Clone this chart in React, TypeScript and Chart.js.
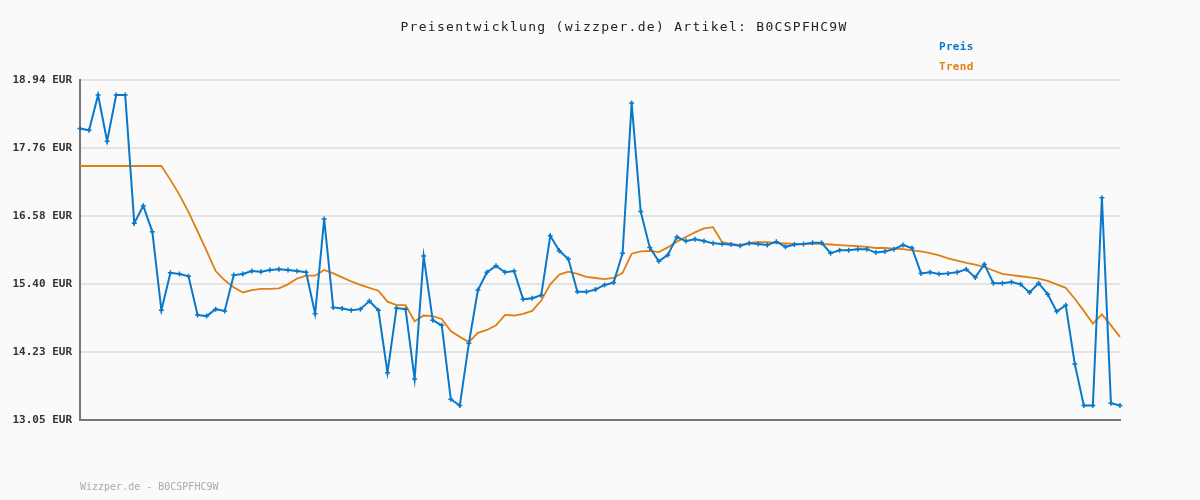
import React, { useEffect, useRef } from "react";
import { Chart, registerables } from "chart.js";

Chart.register(...registerables);

const titleText = "Preisentwicklung (wizzper.de) Artikel: B0CSPFHC9W";
const footerText = "Wizzper.de - B0CSPFHC9W";
const seriesNames = ["Preis", "Trend"];
const seriesColors = ["#0a78c8", "#e07f14"];

const yTickValues = [13.05, 14.228, 15.406, 16.584, 17.762, 18.94];
const yTickLabels = ["13.05 EUR", "14.23 EUR", "15.40 EUR", "16.58 EUR", "17.76 EUR", "18.94 EUR"];

const priceValues = [
  18.10, 18.07, 18.68, 17.88, 18.68, 18.68, 16.46, 16.76, 16.31, 14.95,
  15.60, 15.58, 15.54, 14.87, 14.85, 14.97, 14.94, 15.56, 15.58, 15.63,
  15.62, 15.65, 15.66, 15.65, 15.63, 15.61, 14.89, 16.53, 15.00, 14.98,
  14.95, 14.97, 15.11, 14.95, 13.87, 14.99, 14.97, 13.76, 15.89, 14.78,
  14.69, 13.41, 13.30, 14.38, 15.30, 15.61, 15.72, 15.61, 15.63, 15.14,
  15.16, 15.21, 16.24, 15.98, 15.84, 15.27, 15.27, 15.31, 15.39, 15.43,
  15.94, 18.54, 16.66, 16.04, 15.80, 15.91, 16.22, 16.15, 16.18, 16.15,
  16.11, 16.10, 16.09, 16.07, 16.11, 16.10, 16.08, 16.14, 16.05, 16.09,
  16.10, 16.12, 16.12, 15.94, 15.99, 15.99, 16.01, 16.01, 15.95, 15.97,
  16.01, 16.08, 16.03, 15.59, 15.61, 15.58, 15.59, 15.61, 15.66, 15.52,
  15.75, 15.42, 15.42, 15.44, 15.40, 15.26, 15.42, 15.23, 14.93, 15.04,
  14.02, 13.30, 13.30, 16.90, 13.34, 13.30,
];

const trendValues = [
  17.45, 17.45, 17.45, 17.45, 17.45, 17.45, 17.45, 17.45, 17.45, 17.45,
  17.21, 16.95, 16.65, 16.32, 15.98, 15.63, 15.47, 15.35, 15.26, 15.30,
  15.32, 15.32, 15.33, 15.40, 15.50, 15.55, 15.55, 15.65, 15.59, 15.52,
  15.45, 15.39, 15.34, 15.29, 15.10, 15.04, 15.04, 14.76, 14.86, 14.85,
  14.80, 14.59, 14.49, 14.40, 14.56, 14.61, 14.69, 14.87, 14.86, 14.89,
  14.94, 15.12, 15.40, 15.57, 15.62, 15.58, 15.53, 15.51, 15.49, 15.51,
  15.60, 15.93, 15.97, 15.98, 15.96, 16.04, 16.14, 16.22, 16.30, 16.37,
  16.39, 16.13, 16.10, 16.08, 16.12, 16.13, 16.13, 16.12, 16.11, 16.10,
  16.10, 16.10, 16.10, 16.09, 16.08, 16.07, 16.06, 16.05, 16.03, 16.03,
  16.02, 16.01, 15.99, 15.97, 15.94, 15.90, 15.85, 15.81, 15.77, 15.74,
  15.70, 15.64, 15.58, 15.56, 15.54, 15.52, 15.50, 15.46, 15.40, 15.34,
  15.15, 14.94, 14.72, 14.88, 14.69, 14.49,
];

const categories = priceValues.map((_, i) => String(i + 1));

const textPlugin = {
  id: "textPlugin",
  beforeDraw(chart: any) {
    const ctx = chart.ctx;
    ctx.save();
    ctx.fillStyle = "#fafafa";
    ctx.fillRect(0, 0, chart.width, chart.height);
    ctx.restore();
  },
  afterDraw(chart: any) {
    const ctx = chart.ctx;
    ctx.save();
    ctx.font = '13px "DejaVu Sans Mono"';
    (ctx as any).letterSpacing = "1.3px";
    ctx.fillStyle = "#222222";
    ctx.textAlign = "center";
    ctx.textBaseline = "middle";
    ctx.fillText(titleText, 624, 28);
    ctx.font = 'bold 11px "DejaVu Sans Mono"';
    (ctx as any).letterSpacing = "0.3px";
    ctx.textAlign = "left";
    seriesNames.forEach((name, i) => {
      ctx.fillStyle = seriesColors[i];
      ctx.fillText(name, 939, 47 + i * 20);
    });
    ctx.font = '10px "DejaVu Sans Mono"';
    (ctx as any).letterSpacing = "0px";
    ctx.fillStyle = "#aaaaaa";
    ctx.fillText(footerText, 80, 487);
    ctx.restore();
  },
};

export default function App() {
  const ref = useRef<HTMLCanvasElement | null>(null);
  useEffect(() => {
    document.body.style.margin = "0";
    const canvas = ref.current!;
    const chart = new Chart(canvas, {
      type: "line",
      data: {
        labels: categories,
        datasets: [
          {
            label: seriesNames[0],
            data: priceValues,
            borderColor: seriesColors[0],
            backgroundColor: seriesColors[0],
            borderWidth: 2,
            pointStyle: "cross",
            pointRadius: 2.5,
            pointBorderWidth: 1.5,
            pointBorderColor: seriesColors[0],
            tension: 0,
            order: 1,
          },
          {
            label: seriesNames[1],
            data: trendValues,
            borderColor: seriesColors[1],
            backgroundColor: seriesColors[1],
            borderWidth: 1.8,
            pointRadius: 0,
            tension: 0,
            order: 2,
          },
        ],
      },
      options: {
        animation: false,
        responsive: false,
        maintainAspectRatio: false,
        layout: { padding: { top: 80, right: 80, bottom: 80, left: 0 } },
        plugins: {
          legend: { display: false },
          title: { display: false },
          tooltip: { enabled: false },
        },
        scales: {
          x: {
            type: "category",
            offset: false,
            ticks: { display: false },
            grid: { display: false, drawTicks: false },
            border: { display: true, color: "#777777", width: 2 },
            afterFit: (s: any) => {
              s.height = 0;
            },
          },
          y: {
            min: 13.05,
            max: 18.94,
            afterBuildTicks: (s: any) => {
              s.ticks = yTickValues.map((v) => ({ value: v }));
            },
            afterFit: (s: any) => {
              s.width = 80;
            },
            ticks: {
              autoSkip: false,
              padding: 8,
              color: "#333333",
              font: { family: "DejaVu Sans Mono", size: 11, weight: "bold" },
              callback: (_v: any, i: number) => yTickLabels[i],
            },
            grid: { color: "#e4e4e4", lineWidth: 2, drawTicks: false },
            border: { display: true, color: "#777777", width: 2 },
          },
        },
      },
      plugins: [textPlugin],
    });
    return () => chart.destroy();
  }, []);
  return <canvas ref={ref} width={1200} height={500} style={{ display: "block", width: 1200, height: 500 }} />;
}
